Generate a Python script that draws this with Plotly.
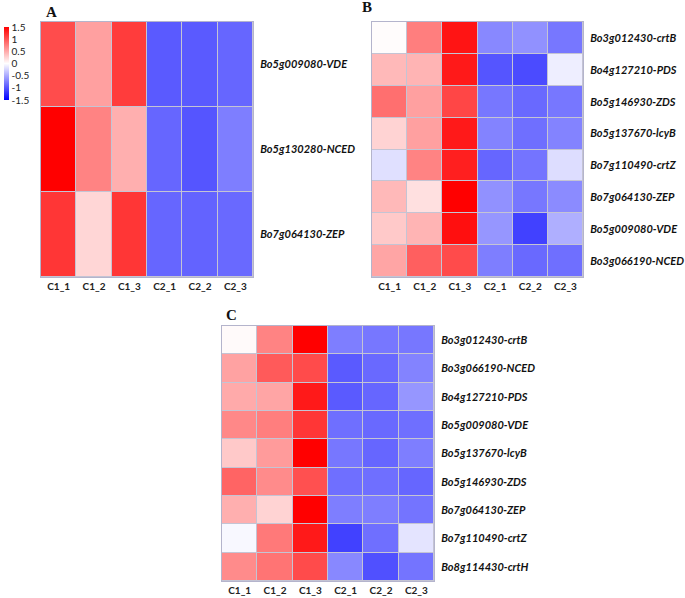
import plotly.graph_objects as go

cols = ["C1_1", "C1_2", "C1_3", "C2_1", "C2_2", "C2_3"]

genes_a = ["Bo5g009080-VDE", "Bo5g130280-NCED", "Bo7g064130-ZEP"]
vals_a = [
    [1.05, 0.56, 1.15, -0.97, -0.97, -0.90],
    [1.50, 0.73, 0.47, -0.90, -1.00, -0.76],
    [1.18, 0.24, 1.18, -0.90, -0.92, -0.88],
]

genes_b = ["Bo3g012430-crtB", "Bo4g127210-PDS", "Bo5g146930-ZDS", "Bo5g137670-lcyB",
           "Bo7g110490-crtZ", "Bo7g064130-ZEP", "Bo5g009080-VDE", "Bo3g066190-NCED"]
vals_b = [
    [0.02, 0.76, 1.38, -0.70, -0.65, -0.80],
    [0.41, 0.44, 1.35, -1.00, -1.06, -0.10],
    [0.85, 0.56, 1.09, -0.80, -0.88, -0.80],
    [0.26, 0.56, 1.35, -0.73, -0.85, -0.73],
    [-0.18, 0.73, 1.32, -0.90, -0.82, -0.20],
    [0.41, 0.18, 1.50, -0.65, -0.80, -0.68],
    [0.32, 0.44, 1.41, -0.62, -1.12, -0.47],
    [0.53, 0.94, 1.06, -0.76, -0.88, -0.85],
]

genes_c = ["Bo3g012430-crtB", "Bo3g066190-NCED", "Bo4g127210-PDS", "Bo5g009080-VDE",
           "Bo5g137670-lcyB", "Bo5g146930-ZDS", "Bo7g064130-ZEP", "Bo7g110490-crtZ",
           "Bo8g114430-crtH"]
vals_c = [
    [0.03, 0.73, 1.50, -0.76, -0.80, -0.80],
    [0.55, 0.97, 1.06, -0.97, -0.88, -0.73],
    [0.50, 0.53, 1.35, -0.97, -0.90, -0.62],
    [0.70, 0.76, 1.18, -0.85, -0.88, -0.85],
    [0.32, 0.59, 1.50, -0.80, -0.90, -0.76],
    [0.91, 0.68, 1.03, -0.85, -0.85, -0.90],
    [0.47, 0.26, 1.50, -0.76, -0.76, -0.82],
    [-0.04, 0.79, 1.35, -1.12, -0.85, -0.16],
    [0.68, 0.82, 1.06, -0.70, -1.03, -0.82],
]

cbar_ticks = [1.5, 1, 0.5, 0, -0.5, -1, -1.5]

W, H = 685, 598
scale = [[0, "rgb(0,0,255)"], [0.5, "rgb(255,255,255)"], [1, "rgb(255,0,0)"]]

panels = [
    ("A", genes_a, vals_a, (41, 253, 22, 277), (51, 12)),
    ("B", genes_b, vals_b, (372, 583, 22, 277), (367, 7)),
    ("C", genes_c, vals_c, (222, 434, 326, 581), (231, 315)),
]

fig = go.Figure()
layout = {}
for i, (letter, genes, vals, (x0, x1, y0, y1), (lx, ly)) in enumerate(panels):
    n = i + 1
    xa = "x" if n == 1 else f"x{n}"
    ya = "y" if n == 1 else f"y{n}"
    tr = dict(
        z=vals, x=cols, y=genes, xaxis=xa, yaxis=ya,
        colorscale=scale, zmin=-1.5, zmax=1.5, xgap=1, ygap=1,
        hoverongaps=False,
    )
    if n == 1:
        tr["showscale"] = True
        tr["colorbar"] = dict(
            x=4 / W, xanchor="left", y=1 - 63.5 / H, yanchor="middle",
            lenmode="pixels", len=73, thickness=5, outlinewidth=0,
            tickvals=cbar_ticks, ticktext=[str(t) for t in cbar_ticks],
            ticks="", ticklabelposition="outside",
            tickfont=dict(family="Lato", size=10, color="#222"),
            xpad=0, ypad=0,
        )
    else:
        tr["showscale"] = False
    fig.add_trace(go.Heatmap(**tr))
    xkey = "xaxis" if n == 1 else f"xaxis{n}"
    ykey = "yaxis" if n == 1 else f"yaxis{n}"
    layout[xkey] = dict(
        domain=[x0 / W, x1 / W], anchor=ya, showgrid=False, zeroline=False,
        tickfont=dict(family="Lato", size=10, color="#222", weight="bold"),
        ticks="", showline=True, mirror=True, linecolor="#b4b4cc", linewidth=1,
        ticklabelstandoff=0,
    )
    layout[ykey] = dict(
        domain=[1 - y1 / H, 1 - y0 / H], anchor=xa, side="right",
        autorange="reversed", showgrid=False, zeroline=False, ticks="",
        tickvals=genes, ticktext=[f"<b><i>{g}</i></b>" for g in genes],
        tickfont=dict(family="Lato", size=11, color="#111"),
        showline=True, mirror=True, linecolor="#b4b4cc", linewidth=1,
        ticklabelstandoff=4,
    )
    fig.add_annotation(
        x=lx / W, y=1 - ly / H, xref="paper", yref="paper", showarrow=False,
        text=f"<b>{letter}</b>", font=dict(family="Liberation Serif", size=15, color="#111"),
        xanchor="center", yanchor="middle",
    )

fig.update_layout(
    width=W, height=H, margin=dict(l=0, r=0, t=0, b=0),
    paper_bgcolor="white", plot_bgcolor="#c4c4d4",
    showlegend=False, **layout,
)
fig.write_html("out.html", config={"displayModeBar": False},
               post_script="document.body.style.margin='0';")
